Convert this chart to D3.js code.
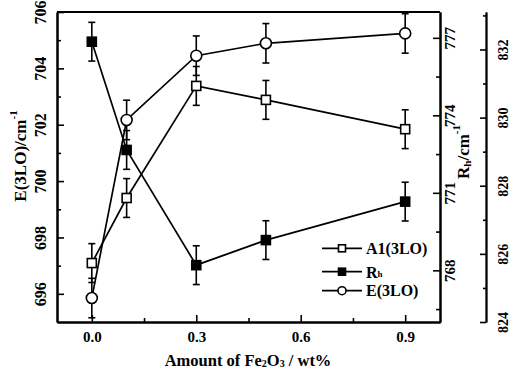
<!DOCTYPE html>
<html>
<head>
<meta charset="utf-8">
<script src="https://cdn.jsdelivr.net/npm/d3@7"></script>
<style>
  html, body { margin: 0; padding: 0; background: #fff; }
  svg { display: block; }
  svg text { font-family: "Liberation Serif", "Times New Roman", "DejaVu Serif", serif; font-weight: bold; fill: #000; }
</style>
</head>
<body>
<svg id="chart" width="511" height="373"></svg>
<script>
// Fe2O3 content (wt%)
const amounts = [0, 0.1, 0.3, 0.5, 0.9];
// Peak positions (cm^-1)
const e3lo  = [695.85, 702.17, 704.45, 704.89, 705.24];
const e3loErr = [0.7, 0.7, 0.7, 0.7, 0.7];
const rh    = [776.85, 772.66, 768.2, 769.17, 770.66];
const rhErr = [0.75, 0.75, 0.75, 0.75, 0.75];
const a13lo = [825.73, 827.64, 830.93, 830.52, 829.66];
const a13loErr = [0.57, 0.57, 0.57, 0.57, 0.57];

// Tick values
const xTicks = [0, 0.3, 0.6, 0.9];
const xMinor = [0.15, 0.45, 0.75];
const leftTicks = [696, 698, 700, 702, 704, 706];
const leftMinor = [697, 699, 701, 703, 705];
const rhTicks = [768, 771, 774, 777];
const rhMinor = [766.5, 769.5, 772.5, 775.5];
const a1Ticks = [824, 826, 828, 830, 832];
const a1Minor = [825, 827, 829, 831, 833];

const svg = d3.select("#chart");
const L = 57, R = 440, T = 12, B = 322, OUTER = 486;
const FONT = "'Liberation Serif', 'Times New Roman', 'DejaVu Serif', serif";

const x  = d3.scaleLinear().domain([-0.1, 1.0]).range([L, R]);
const yL = d3.scaleLinear().domain([695, 706]).range([B, T]);
const yR = d3.scaleLinear().domain([766, 778]).range([B, T]);
const yO = d3.scaleLinear().domain([824, 833.1]).range([B, T]);

function styleAxis(g, w) {
  g.attr("font-family", FONT).attr("font-weight", "bold");
  g.selectAll("path.domain").attr("stroke", "#000").attr("stroke-width", w);
  g.selectAll(".tick line").attr("stroke", "#000").attr("stroke-width", 1.6);
}

// bottom axis
const gx = svg.append("g").attr("transform", `translate(0,${B})`)
  .call(d3.axisBottom(x).tickValues(xTicks).tickFormat(d3.format(".1f")).tickSizeInner(-7).tickSizeOuter(0).tickPadding(6));
styleAxis(gx, 2);
gx.selectAll("text").attr("font-size", 15).attr("y", 9);
const gxm = svg.append("g").attr("transform", `translate(0,${B})`)
  .call(d3.axisBottom(x).tickValues(xMinor).tickFormat("").tickSizeInner(-4).tickSizeOuter(0));
styleAxis(gxm, 2);

// top frame
svg.append("line").attr("x1", L).attr("x2", R).attr("y1", T).attr("y2", T)
  .attr("stroke", "#000").attr("stroke-width", 2);

// left axis (E(3LO))
const gl = svg.append("g").attr("transform", `translate(${L},0)`)
  .call(d3.axisLeft(yL).tickValues(leftTicks).tickFormat(d3.format("d")).tickSizeInner(-7).tickSizeOuter(0));
styleAxis(gl, 2);
gl.selectAll("text").attr("x", null).attr("dy", null)
  .attr("text-anchor", "middle").attr("dominant-baseline", "central")
  .attr("font-size", 16)
  .attr("transform", "translate(-16.5,0) rotate(-90)");
const glm = svg.append("g").attr("transform", `translate(${L},0)`)
  .call(d3.axisLeft(yL).tickValues(leftMinor).tickFormat("").tickSizeInner(-4).tickSizeOuter(0));
styleAxis(glm, 2);

// inner right axis (Rh)
const gr = svg.append("g").attr("transform", `translate(${R},0)`)
  .call(d3.axisRight(yR).tickValues(rhTicks).tickFormat(d3.format("d")).tickSizeInner(-7).tickSizeOuter(0));
styleAxis(gr, 2);
gr.selectAll("text").attr("x", null).attr("dy", null)
  .attr("text-anchor", "middle").attr("dominant-baseline", "central")
  .attr("font-size", 15)
  .attr("transform", "translate(9.5,0) rotate(-90)");
const grm = svg.append("g").attr("transform", `translate(${R},0)`)
  .call(d3.axisRight(yR).tickValues(rhMinor).tickFormat("").tickSizeInner(-4).tickSizeOuter(0));
styleAxis(grm, 2);

// outer right axis (A1(3LO))
const go = svg.append("g").attr("transform", `translate(${OUTER},0)`)
  .call(d3.axisLeft(yO).tickValues(a1Ticks).tickFormat(d3.format("d")).tickSizeInner(6).tickSizeOuter(0));
styleAxis(go, 1.8);
go.selectAll("text").attr("x", null).attr("dy", null)
  .attr("text-anchor", "middle").attr("dominant-baseline", "central")
  .attr("font-size", 14)
  .attr("transform", "translate(17.5,0) rotate(-90)");
const gom = svg.append("g").attr("transform", `translate(${OUTER},0)`)
  .call(d3.axisLeft(yO).tickValues(a1Minor).tickFormat("").tickSizeInner(3).tickSizeOuter(0));
styleAxis(gom, 1.8);

// axis titles
const lt = svg.append("text").attr("transform", `translate(20,156) rotate(-90)`)
  .attr("text-anchor", "middle").attr("dominant-baseline", "central").attr("font-size", 17);
lt.append("tspan").text("E(3LO)/cm");
lt.append("tspan").attr("font-size", 11).attr("dy", -7).text("-1");

const rt = svg.append("text").attr("transform", `translate(463,152) rotate(-90)`)
  .attr("text-anchor", "middle").attr("dominant-baseline", "central").attr("font-size", 17);
rt.append("tspan").text("R");
rt.append("tspan").attr("font-size", 11).attr("dy", 4).text("h");
rt.append("tspan").attr("dy", -4).text("/cm");
rt.append("tspan").attr("font-size", 11).attr("dy", -7).text("-1");

const bt = svg.append("text").attr("x", 248).attr("y", 366).attr("text-anchor", "middle").attr("font-size", 16.5);
bt.append("tspan").text("Amount of Fe");
bt.append("tspan").attr("font-size", 10).attr("dy", 1).text("2");
bt.append("tspan").attr("dy", -1).text("O");
bt.append("tspan").attr("font-size", 10).attr("dy", 1).text("3");
bt.append("tspan").attr("dy", -1).text(" / wt%");

// series
const series = [
  { name: "A1(3LO)", vals: a13lo, err: a13loErr, y: yO, marker: "square", fill: "#fff" },
  { name: "Rh",      vals: rh,    err: rhErr,    y: yR, marker: "square", fill: "#000" },
  { name: "E(3LO)",  vals: e3lo,  err: e3loErr,  y: yL, marker: "circle", fill: "#fff" }
];

const line = (s) => d3.line().x((d, i) => x(amounts[i])).y(d => s.y(d));

series.forEach(s => {
  svg.append("path").datum(s.vals).attr("d", line(s)).attr("fill", "none")
    .attr("stroke", "#000").attr("stroke-width", 1.7);
});

series.forEach(s => {
  const g = svg.append("g");
  s.vals.forEach((v, i) => {
    const cx = x(amounts[i]);
    const y1 = s.y(v + s.err[i]), y2 = s.y(v - s.err[i]);
    g.append("line").attr("x1", cx).attr("x2", cx).attr("y1", y1).attr("y2", y2).attr("stroke", "#000").attr("stroke-width", 1.6);
    g.append("line").attr("x1", cx - 3.5).attr("x2", cx + 3.5).attr("y1", y1).attr("y2", y1).attr("stroke", "#000").attr("stroke-width", 1.6);
    g.append("line").attr("x1", cx - 3.5).attr("x2", cx + 3.5).attr("y1", y2).attr("y2", y2).attr("stroke", "#000").attr("stroke-width", 1.6);
  });
});

function drawMarker(g, type, fill, cx, cy, size) {
  if (type === "circle") {
    g.append("circle").attr("cx", cx).attr("cy", cy).attr("r", size / 2)
      .attr("fill", fill).attr("stroke", "#000").attr("stroke-width", 1.6);
  } else {
    g.append("rect").attr("x", cx - size / 2).attr("y", cy - size / 2).attr("width", size).attr("height", size)
      .attr("fill", fill).attr("stroke", "#000").attr("stroke-width", 1.6);
  }
}

series.forEach(s => {
  const g = svg.append("g");
  s.vals.forEach((v, i) => drawMarker(g, s.marker, s.fill, x(amounts[i]), s.y(v), s.marker === "circle" ? 11 : 9));
});

// legend
const legendRows = [248.3, 271.7, 290.7];
series.forEach((s, i) => {
  const ly = legendRows[i];
  const g = svg.append("g");
  g.append("line").attr("x1", 322).attr("x2", 362).attr("y1", ly).attr("y2", ly).attr("stroke", "#000").attr("stroke-width", 1.7);
  drawMarker(g, s.marker, s.fill, 342, ly, s.marker === "circle" ? 8 : 7);
  const t = g.append("text").attr("x", 366).attr("y", ly).attr("dominant-baseline", "central").attr("font-size", 16);
  if (s.name === "Rh") {
    t.append("tspan").text("R");
    t.append("tspan").attr("font-size", 9).attr("dy", 2).text("h");
  } else {
    t.text(s.name);
  }
});
</script>
</body>
</html>
